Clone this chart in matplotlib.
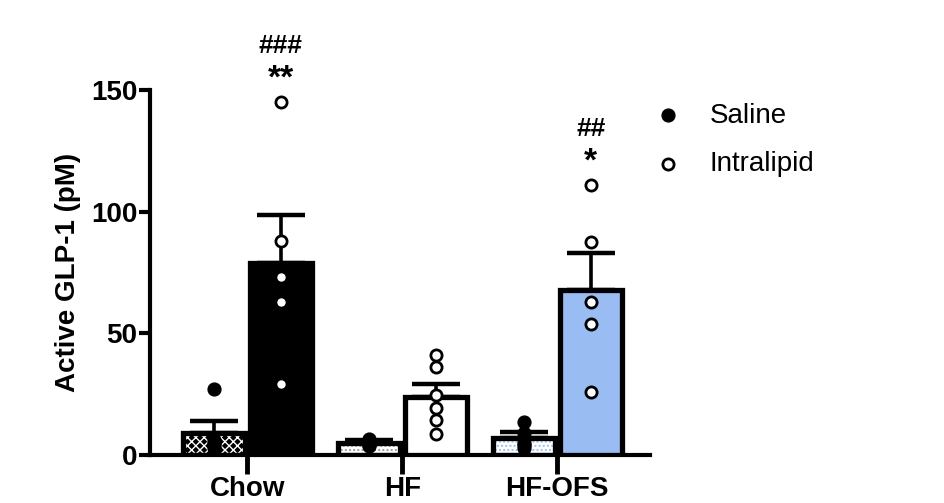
import matplotlib
matplotlib.use('Agg')
from matplotlib import pyplot as plt
import numpy as np

plt.rcParams['font.family'] = ['Liberation Sans', 'DejaVu Sans']

# data
groups = ['Chow', 'HF', 'HF-OFS']
saline_mean = [9, 5, 7]
saline_sem = [5, 1, 2.5]
intra_mean = [79, 24, 68]
intra_sem = [19.5, 5, 15]
saline_pts = [[27, 6, 5, 4, 3], [6.5, 5, 4.5, 4, 3.5], [13.5, 9, 5, 3, 4]]
intra_pts = [[145, 88, 73, 63, 29], [41, 36, 24.5, 19.5, 14.5, 8.5], [111, 87.5, 63, 54, 26]]
annot_top = ['###', '', '##']
annot_bot = ['**', '', '*']

saline_face = ['black', 'white', 'white']
saline_hatch_col = ['white', '#9a9a9a', '#9fc0ee']
saline_hatch = ['xxxx', '....', '....']
intra_face = ['black', 'white', '#99bdf2']

fig = plt.figure(figsize=(9.44, 5.03), dpi=100)
ax = fig.add_axes([0.159, 0.0954, 0.53, 0.7256])

x = np.arange(len(groups))
off = 0.215
w = 0.40
lw = 3.8

for i in range(len(groups)):
    xs = x[i] - off
    xi = x[i] + off
    # saline bar: fill + hatch, then outline
    ax.bar(xs, saline_mean[i], w, color=saline_face[i], edgecolor=saline_hatch_col[i],
           hatch=saline_hatch[i], linewidth=0, zorder=2)
    ax.bar(xs, saline_mean[i], w, fill=False, edgecolor='black', linewidth=lw, zorder=3)
    ax.errorbar(xs, saline_mean[i], yerr=[[0], [saline_sem[i]]], color='black',
                capsize=17, elinewidth=2.6, capthick=3.2, zorder=4)
    ax.bar(xi, intra_mean[i], w, color=intra_face[i], edgecolor='black', linewidth=lw, zorder=3)
    ax.errorbar(xi, intra_mean[i], yerr=[[0], [intra_sem[i]]], color='black',
                capsize=17, elinewidth=2.6, capthick=3.2, zorder=4)
    ax.scatter([xs] * len(saline_pts[i]), saline_pts[i], s=85, color='black', zorder=5)
    ax.scatter([xi] * len(intra_pts[i]), intra_pts[i], s=65, facecolor='white',
               edgecolor='black', linewidth=2, zorder=5)
    top = max(intra_pts[i])
    if annot_bot[i]:
        ax.text(xi, top + 9.5, annot_bot[i], ha='center', va='center', fontsize=24,
                fontweight='bold')
        ax.text(xi, top + 23, annot_top[i], ha='center', va='center', fontsize=19,
                fontweight='bold')

ax.set_xlim(-0.626, 2.6)
ax.set_ylim(0, 150)
ax.set_yticks([0, 50, 100, 150])
ax.set_xticks(x)
ax.set_xticklabels(groups)
for lab in ax.get_xticklabels() + ax.get_yticklabels():
    lab.set_fontsize(20)
    lab.set_fontweight('bold')
ax.tick_params(axis='y', length=8, width=3, pad=1)
ax.tick_params(axis='x', length=14, width=3.5, pad=1)
ax.set_ylabel('Active GLP-1 (pM)', fontsize=20, fontweight='bold', labelpad=7)

for s in ['top', 'right']:
    ax.spines[s].set_visible(False)
for s in ['left', 'bottom']:
    ax.spines[s].set_linewidth(3)

h1 = ax.scatter([], [], s=85, color='black')
h2 = ax.scatter([], [], s=65, facecolor='white', edgecolor='black', linewidth=2)
fig.legend([h1, h2], ['Saline', 'Intralipid'], loc='center left',
           bbox_to_anchor=(0.652, 0.722), frameon=False, fontsize=20,
           handletextpad=0.5, labelspacing=0.8)

fig.savefig('out.png', dpi=100)
